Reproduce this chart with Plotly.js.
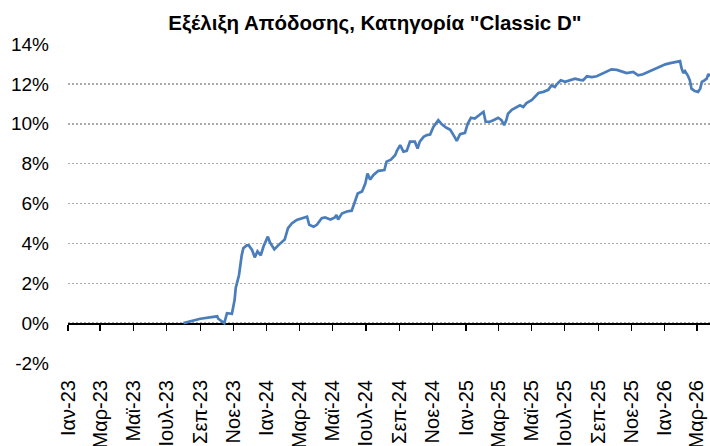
<!DOCTYPE html>
<html>
<head>
<meta charset="utf-8">
<script src="https://cdn.plot.ly/plotly-3.0.1.min.js"></script>
<style>html,body{margin:0;padding:0;background:#fff}#chart{width:710px;height:446px}</style>
</head>
<body>
<div id="chart"></div>
<script>
const dates = ['2023-08-01','2023-09-01','2023-10-02','2023-10-04','2023-10-15','2023-10-20','2023-10-29','2023-11-03','2023-11-05','2023-11-09','2023-11-11','2023-11-16','2023-11-19','2023-11-25','2023-11-29','2023-12-05','2023-12-10','2023-12-15','2023-12-21','2023-12-26',
'2024-01-03','2024-01-07','2024-01-15','2024-01-22','2024-01-29','2024-02-03','2024-02-09','2024-02-16','2024-02-25','2024-03-06','2024-03-15','2024-03-19','2024-03-27','2024-04-02','2024-04-11','2024-04-17','2024-04-27','2024-05-05','2024-05-08','2024-05-11','2024-05-18','2024-05-27','2024-06-05','2024-06-11','2024-06-16','2024-06-24','2024-06-30','2024-07-04','2024-07-09','2024-07-15','2024-07-24','2024-08-04','2024-08-08','2024-08-16','2024-08-24','2024-08-27','2024-09-02','2024-09-08','2024-09-14','2024-09-20','2024-09-29','2024-10-04','2024-10-08','2024-10-15','2024-10-21','2024-10-27','2024-11-02','2024-11-11','2024-11-18','2024-11-26','2024-12-03','2024-12-09','2024-12-15','2024-12-21','2024-12-30',
'2025-01-04','2025-01-10','2025-01-17','2025-01-25','2025-02-02','2025-02-06','2025-02-14','2025-02-22','2025-03-01','2025-03-07','2025-03-12','2025-03-16','2025-03-19','2025-03-26','2025-04-01','2025-04-10','2025-04-16','2025-04-22','2025-05-02','2025-05-08','2025-05-14','2025-05-23','2025-06-01','2025-06-07','2025-06-13','2025-06-16','2025-06-24','2025-07-02','2025-07-11','2025-07-20','2025-07-29','2025-08-04','2025-08-11','2025-08-20','2025-08-29','2025-09-07','2025-09-16','2025-09-25','2025-10-05','2025-10-14','2025-10-23','2025-11-04','2025-11-13','2025-11-22','2025-12-02','2025-12-11','2025-12-23',
'2026-01-02','2026-01-11','2026-01-20','2026-01-29','2026-02-01','2026-02-04','2026-02-07','2026-02-12','2026-02-16','2026-02-19','2026-02-25','2026-03-03','2026-03-07','2026-03-10','2026-03-13','2026-03-19','2026-03-22','2026-03-25'];

const returnsPct = [0.0,0.22,0.34,0.22,0.0,0.5,0.47,1.17,1.76,2.26,2.4,3.4,3.76,3.9,3.9,3.67,3.3,3.6,3.4,3.84,
4.34,4.04,3.7,3.9,4.1,4.2,4.76,5.0,5.18,5.26,5.34,4.93,4.84,4.93,5.26,5.3,5.2,5.3,5.43,5.2,5.5,5.6,5.64,6.1,6.5,6.6,7.0,7.5,7.2,7.43,7.64,7.68,8.1,8.2,8.43,8.64,8.93,8.6,8.64,9.1,9.1,8.76,9.1,9.34,9.43,9.46,9.84,10.18,9.96,9.8,9.7,9.43,9.14,9.48,9.54,
10.0,10.3,10.26,10.43,10.6,10.1,10.1,10.2,10.3,10.18,9.93,10.18,10.5,10.7,10.8,10.93,10.84,11.04,11.2,11.38,11.54,11.6,11.7,11.93,11.84,11.96,12.18,12.1,12.2,12.26,12.2,12.18,12.38,12.34,12.38,12.5,12.64,12.73,12.7,12.6,12.54,12.6,12.43,12.48,12.6,12.7,12.84,
12.98,13.04,13.1,13.14,12.76,12.54,12.64,12.43,12.18,11.76,11.64,11.6,11.76,12.1,12.14,12.26,12.5,12.38];

const xTickVals = ['2023-01-01','2023-03-01','2023-05-01','2023-07-01','2023-09-01','2023-11-01','2024-01-01','2024-03-01','2024-05-01','2024-07-01','2024-09-01','2024-11-01','2025-01-01','2025-03-01','2025-05-01','2025-07-01','2025-09-01','2025-11-01','2026-01-01','2026-03-01'];
const xTickText = ['Ιαν-23','Μαρ-23','Μαϊ-23','Ιουλ-23','Σεπ-23','Νοε-23','Ιαν-24','Μαρ-24','Μαϊ-24','Ιουλ-24','Σεπ-24','Νοε-24','Ιαν-25','Μαρ-25','Μαϊ-25','Ιουλ-25','Σεπ-25','Νοε-25','Ιαν-26','Μαρ-26'];
const yTickVals = [-2,0,2,4,6,8,10,12,14];
const yTickText = ['-2%','0%','2%','4%','6%','8%','10%','12%','14%'];
const titleText = 'Εξέλιξη Απόδοσης, Κατηγορία "Classic D"';

const xRange = ['2023-01-01','2026-03-25'];
const font = 'Liberation Sans, Arial, sans-serif';

const trace = {
  x: dates, y: returnsPct, type: 'scatter', mode: 'lines',
  line: {color: '#4a7dbc', width: 2.7},
  hoverinfo: 'skip', xaxis: 'x', yaxis: 'y'
};
// empty trace so the label axis (x2) gets a subplot
const labelAxisHolder = {x: [], y: [], type: 'scatter', mode: 'lines', xaxis: 'x2', yaxis: 'y', hoverinfo: 'skip'};

const layout = {
  width: 710, height: 446,
  margin: {l: 68, r: 0, t: 44, b: 83, pad: 0},
  paper_bgcolor: '#fff', plot_bgcolor: '#fff',
  showlegend: false,
  font: {family: font, color: '#000'},
  title: {text: '<b>' + titleText + '</b>', font: {family: font, size: 20.5, color: '#000'},
          xref: 'container', x: 0.528, xanchor: 'center', yref: 'container', y: 1 - 23/446, yanchor: 'middle'},
  xaxis: {
    type: 'date', range: xRange, anchor: 'free', position: 0.125,
    showgrid: false, zeroline: false, showline: true, linecolor: '#000', linewidth: 1.5,
    ticks: 'outside', ticklen: 6, tickwidth: 1.3, tickcolor: '#000',
    tickmode: 'array', tickvals: xTickVals, showticklabels: false, layer: 'below traces'
  },
  xaxis2: {
    type: 'date', range: xRange, overlaying: 'x', anchor: 'y', side: 'bottom',
    showgrid: false, zeroline: false, showline: false, ticks: '',
    tickmode: 'array', tickvals: xTickVals, ticktext: xTickText, tickangle: -90,
    ticklabelstandoff: 12, tickfont: {family: font, size: 20, color: '#000'}
  },
  yaxis: {
    range: [-2, 14], tickmode: 'array', tickvals: yTickVals, ticktext: yTickText,
    showgrid: true, gridcolor: '#ababab', gridwidth: 1.5, griddash: '2px,2px',
    zeroline: false, showline: false, ticks: '',
    ticklabelstandoff: 18, tickfont: {family: font, size: 19, color: '#000'}
  }
};

Plotly.newPlot('chart', [trace, labelAxisHolder], layout, {staticPlot: true, displayModeBar: false});
</script>
</body>
</html>
